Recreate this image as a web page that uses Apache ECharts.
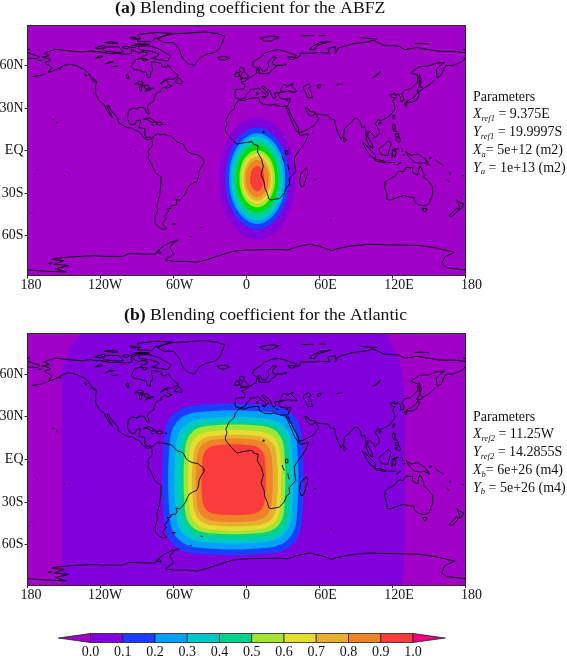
<!DOCTYPE html>
<html lang="en">

<head>
    <meta charset="UTF-8">
    <title>Blending coefficient</title>
    <style>
        html, body { margin: 0; padding: 0; background: #fff; }
        #box { width: 567px; height: 656px; }
    </style>
    <script src="https://cdn.jsdelivr.net/npm/echarts@6/dist/echarts.min.js"></script>
</head>

<body>
    <div id="box"></div>
    <script>
        // tick labels
        const lonTicks = [-180, -120, -60, 0, 60, 120, 180];
        const lonLabels = ['180', '120W', '60W', '0', '60E', '120E', '180'];
        const latTicks = [-60, -30, 0, 30, 60];
        const latLabels = ['60S', '30S', 'EQ', '30N', '60N'];
        const barTicks = [0, 0.1, 0.2, 0.3, 0.4, 0.5, 0.6, 0.7, 0.8, 0.9, 1];
        const barLabels = ['0.0', '0.1', '0.2', '0.3', '0.4', '0.5', '0.6', '0.7', '0.8', '0.9', '1.0'];

        // colour of each band
        const barColors = ['#8200dc', '#1e3cff', '#00a0ff', '#00c8c8', '#00d28c', '#a0e632', '#e6dc32', '#e6af2d', '#f08228', '#fa3c3c'];
        const colorBelow = '#a000c8';
        const colorAbove = '#f00082';
        const colorsA = ['#8200dc', '#1e3cff', '#00a0ff', '#00c8c8', '#00d28c', '#00dc00', '#a0e632', '#e6dc32', '#e6af2d', '#f08228', '#fa3c3c'];
        const colorsB = ['#1e3cff', '#00a0ff', '#00c8c8', '#00d28c', '#a0e632', '#e6dc32', '#e6af2d', '#f08228', '#fa3c3c'];

        // panel (a) contour outlines, outer to inner, [lon, lat]
        const contoursA = [
            [[40, -19.8], [30.9, 10.7], [8.8, 23.4], [-13.3, 10.7], [-22.4, -19.8], [-13.3, -50.3], [8.8, -63], [30.9, -50.3]],
            [[34.9, -19.8], [27.3, 5.7], [8.8, 16.3], [-9.7, 5.7], [-17.3, -19.8], [-9.7, -45.3], [8.8, -55.9], [27.3, -45.3]],
            [[31.9, -19.8], [25.1, 2.8], [8.8, 12.1], [-7.5, 2.8], [-14.3, -19.8], [-7.5, -42.4], [8.8, -51.7], [25.1, -42.4]],
            [[30.2, -19.8], [23.9, 1.1], [8.8, 9.8], [-6.3, 1.1], [-12.6, -19.8], [-6.3, -40.7], [8.8, -49.4], [23.9, -40.7]],
            [[28.1, -19.8], [22.4, -0.9], [8.8, 7], [-4.8, -0.9], [-10.5, -19.8], [-4.8, -38.7], [8.8, -46.6], [22.4, -38.7]],
            [[26, -19.8], [21, -3], [8.8, 3.9], [-3.4, -3], [-8.4, -19.8], [-3.4, -36.6], [8.8, -43.5], [21, -36.6]],
            [[23.4, -19.8], [19.1, -5.5], [8.8, 0.4], [-1.5, -5.5], [-5.8, -19.8], [-1.5, -34.1], [8.8, -40], [19.1, -34.1]],
            [[21.7, -19.8], [17.9, -7.2], [8.8, -2], [-0.3, -7.2], [-4.1, -19.8], [-0.3, -32.4], [8.8, -37.6], [17.9, -32.4]],
            [[20, -19.8], [16.7, -8.8], [8.8, -4.3], [0.9, -8.8], [-2.4, -19.8], [0.9, -30.8], [8.8, -35.3], [16.7, -30.8]],
            [[18.3, -19.8], [15.5, -10.5], [8.8, -6.6], [2.1, -10.5], [-0.7, -19.8], [2.1, -29.1], [8.8, -33], [15.5, -29.1]],
            [[14.6, -19.8], [12.9, -13.5], [8.8, -10.9], [4.7, -13.5], [3, -19.8], [4.7, -26.1], [8.8, -28.7], [12.9, -26.1]]
        ];

        // panel (b): the wide 0.0 region, then the rounded boxes, outer to inner
        const zeroRegionB = [[-136.8, 88.5], [115.2, 88.5], [121.2, 78], [127.5, 64], [130.2, 43], [130.2, -60], [128, -88.5], [-151.6, -88.5], [-151.6, 64], [-145, 78]];
        const contoursB = [
            [[-41.8, 38], [19.4, 38], [37.9, 31.6], [45.4, 16], [45.4, -44.4], [37.9, -60], [19.4, -66.4], [-41.8, -66.4], [-60.3, -60], [-67.8, -44.4], [-67.8, 16], [-60.3, 31.6]],
            [[-38.9, 33.3], [17.2, 33.3], [34.2, 27.5], [41.2, 13.3], [41.2, -42.2], [34.2, -56.4], [17.2, -62.2], [-38.9, -62.2], [-55.9, -56.4], [-62.9, -42.2], [-62.9, 13.3], [-55.9, 27.5]],
            [[-35.9, 28.7], [15.1, 28.7], [30.7, 23.3], [37.1, 10.2], [37.1, -39.7], [30.7, -52.8], [15.1, -58.2], [-35.9, -58.2], [-51.5, -52.8], [-57.9, -39.7], [-57.9, 10.2], [-51.5, 23.3]],
            [[-33.2, 25.1], [14.3, 25.1], [28.5, 20.2], [34.3, 8.1], [34.3, -38.1], [28.5, -50.2], [14.3, -55.1], [-33.2, -55.1], [-47.4, -50.2], [-53.2, -38.1], [-53.2, 8.1], [-47.4, 20.2]],
            [[-31.5, 23.5], [11.8, 23.5], [25.3, 18.9], [30.8, 7.5], [30.8, -35.9], [25.3, -47.3], [11.8, -51.9], [-31.5, -51.9], [-45, -47.3], [-50.5, -35.9], [-50.5, 7.5], [-45, 18.9]],
            [[-29.5, 19.7], [10, 19.7], [22.4, 15.3], [27.5, 4.7], [27.5, -34.5], [22.4, -45.1], [10, -49.5], [-29.5, -49.5], [-41.9, -45.1], [-47, -34.5], [-47, 4.7], [-41.9, 15.3]],
            [[-27.7, 16.4], [8.8, 16.4], [20.2, 12.3], [24.8, 2.4], [24.8, -32.5], [20.2, -42.4], [8.8, -46.5], [-27.7, -46.5], [-39.1, -42.4], [-43.7, -32.5], [-43.7, 2.4], [-39.1, 12.3]],
            [[-25.7, 13.9], [5.7, 13.9], [16.3, 10.3], [20.7, 1.4], [20.7, -31], [16.3, -39.9], [5.7, -43.5], [-25.7, -43.5], [-36.3, -39.9], [-40.7, -31], [-40.7, 1.4], [-36.3, 10.3]],
            [[-24.3, 9.9], [3.2, 9.9], [11.7, 6.9], [15.2, -0.6], [15.2, -28.2], [11.7, -35.7], [3.2, -38.7], [-24.3, -38.7], [-32.8, -35.7], [-36.3, -28.2], [-36.3, -0.6], [-32.8, 6.9]]
        ];

        // coastlines and lakes, [lon, lat]
        const coasts = [
            // chukotka west of the date line
            [[-180, 68.9], [-175, 67.5], [-170, 66], [-172, 64.5], [-175, 64.8], [-180, 65]],
            // the Americas
            [[-168, 65.6], [-164, 66.5], [-162, 66.8], [-166.5, 68.4], [-163, 69.5], [-157, 71.2], [-150, 70.5], [-141, 69.7], [-135, 69.3], [-128, 70.2], [-125, 69.5], [-120, 69.5], [-115, 68.5], [-110, 68], [-108, 68.5], [-102, 67.8], [-97, 68], [-94, 68.5], [-95, 71.8], [-92, 70], [-88, 68.7], [-85, 69.5], [-81.5, 69], [-82, 67], [-86, 66.3], [-87, 64.8], [-91, 64], [-93, 62], [-94.5, 59], [-92.5, 57], [-88, 56.5], [-85, 55.3], [-82.3, 55.1], [-82, 53], [-80.5, 51.3], [-79, 51.5], [-79, 54.5], [-77, 56], [-77.5, 58], [-78, 60], [-78, 62.4], [-74, 62.2], [-70, 61], [-69.5, 59], [-66.5, 58.7], [-64.5, 60.3], [-62, 57.5], [-60, 55.5], [-56, 53], [-58, 51.5], [-60, 50.2], [-66, 50.2], [-69, 48.5], [-71, 46.9], [-67, 49], [-65, 49], [-64.5, 47.5], [-65, 47], [-63, 45.8], [-61, 45.5], [-64, 44.2], [-66, 43.7], [-66, 45], [-67, 44.8], [-70, 43.7], [-70.8, 42.5], [-70, 41.7], [-74, 40.6], [-75.5, 38], [-76, 37], [-76, 35], [-78, 33.9], [-81, 32], [-81.5, 30], [-80, 27], [-80.3, 25.3], [-81.5, 26], [-82.8, 28], [-84, 30], [-86, 30.4], [-89, 30.2], [-89.5, 29.2], [-91, 29.3], [-94, 29.6], [-97, 28], [-97.5, 25], [-97.8, 22], [-96, 19], [-94, 18.2], [-91.5, 18.6], [-90.5, 21], [-87, 21.5], [-87.6, 19], [-88.5, 16], [-86, 15.9], [-83.5, 15.2], [-83.6, 11], [-82, 9], [-79.5, 9.5], [-77.3, 8.6], [-75.5, 10.6], [-72, 12.2], [-71.5, 10.8], [-69, 11.5], [-64, 10.5], [-61.5, 10], [-60, 8.5], [-57, 6], [-52, 4.5], [-50, 1], [-48, -1], [-44, -2.5], [-40, -3], [-37, -5], [-35, -6.5], [-35, -9], [-37.5, -12], [-39, -15], [-39.5, -19], [-41, -22], [-44, -23], [-47, -24.5], [-48.6, -27], [-50, -30], [-53, -33.5], [-55, -35], [-58, -34.3], [-57, -36.5], [-58, -38.5], [-62, -39], [-62.5, -41], [-65, -41], [-64, -42.5], [-66, -45], [-67.5, -46.5], [-66, -48], [-69, -51], [-68.5, -52.5], [-65.5, -55], [-69, -55.5], [-72, -54], [-75, -51.5], [-75, -47], [-73, -42], [-73.5, -38], [-71.5, -32], [-70.5, -25], [-70.3, -18.5], [-75, -15.5], [-79, -8], [-81.3, -5], [-80, -3], [-81, -1], [-80, 1], [-78.5, 2], [-77.3, 4], [-77.5, 7], [-79, 8.5], [-80.5, 7.5], [-83, 8.2], [-85.5, 10], [-87.5, 13], [-91, 14], [-94, 16], [-97, 15.8], [-101, 17.3], [-105.5, 20], [-105.5, 22.5], [-109, 26], [-112, 29], [-113, 31.5], [-114.7, 31.5], [-113, 28], [-110, 23], [-112, 25], [-115, 28.5], [-117, 32.5], [-120.5, 34.5], [-122.5, 37.5], [-124, 40], [-124, 46], [-123, 48.5], [-125, 50], [-128, 52], [-130, 54.5], [-133, 57], [-137, 58.5], [-140, 59.8], [-146, 60.8], [-150, 60], [-153, 58.5], [-158, 56.3], [-163, 54.8], [-160, 58.5], [-162, 59.8], [-165, 61], [-166, 62], [-161, 63.5], [-162, 64.5], [-168, 65.6]],
            // greenland and the arctic islands
            [[-73, 78.5], [-68, 80.5], [-62, 82], [-50, 82.5], [-35, 83.5], [-25, 82.5], [-18, 80.5], [-20, 76], [-22, 72], [-26, 69], [-32, 68], [-38, 65.5], [-43, 60], [-48, 61], [-52, 64.5], [-54, 68], [-55, 71], [-60, 76], [-68, 76], [-73, 78.5]],
            [[-80, 73.7], [-72, 71.5], [-67, 69], [-62, 66.5], [-65, 63], [-72, 64], [-78, 64.8], [-73, 66.5], [-72, 68], [-79, 70], [-88, 71], [-89, 73.5], [-80, 73.7]],
            [[-117, 70], [-105, 69], [-101, 69.5], [-105, 73], [-115, 73], [-118, 71.5], [-117, 70]],
            [[-125, 72], [-120, 71.5], [-116, 73.3], [-118, 74], [-125, 72]],
            [[-90, 77], [-78, 76.5], [-75, 79], [-64, 81.5], [-62, 82.5], [-75, 83], [-90, 81.5], [-87, 79], [-90, 77]],
            [[-92, 75], [-80, 75], [-80, 74.5], [-91, 74.5], [-92, 75]],
            [[-117, 76], [-106, 75], [-106, 76], [-112, 76.5], [-117, 76]],
            [[-95, 80], [-88, 78.5], [-95, 78.5], [-95, 80]],
            [[-100, 73.5], [-96, 73], [-98, 71.5], [-102, 72.5], [-100, 73.5]],
            [[-94, 74], [-90, 73.8], [-92, 72.5], [-95, 72.5], [-94, 74]],
            [[-87, 65], [-81, 64], [-84, 62.8], [-87, 65]],
            [[-59, 47.8], [-53, 46.8], [-53, 49], [-56, 51.5], [-59, 47.8]],
            [[-128, 50.5], [-123.5, 48.4], [-125, 48.8], [-128, 50.5]],
            [[-133, 54], [-131.5, 53], [-132, 52], [-133, 54]],
            [[-154.5, 57.5], [-152.5, 58], [-153, 57], [-154.5, 57.5]],
            [[-171, 63.5], [-168.5, 63.3], [-170, 63], [-171, 63.5]],
            [[-176, 52], [-173, 52.3], [-170, 52.7], [-167, 53.5], [-165, 54]],
            // lakes of north america
            [[-92, 46.7], [-88, 48.8], [-85, 47.9], [-85, 46.6], [-88, 46.8], [-92, 46.7]],
            [[-87.5, 41.8], [-86.5, 42], [-86, 44.5], [-85, 45.8], [-87, 45.8], [-88, 44.5], [-87.5, 41.8]],
            [[-84.5, 46], [-81, 46], [-80, 44.5], [-82, 43], [-83.5, 44], [-84.5, 46]],
            [[-83.3, 41.7], [-79, 42.8], [-79, 43], [-82.5, 42.3], [-83.3, 41.7]],
            [[-79.7, 43.3], [-76.3, 43.5], [-76.3, 44], [-79.5, 43.8], [-79.7, 43.3]],
            [[-98, 50.5], [-96.5, 50.5], [-97.5, 53.7], [-99, 53], [-98, 50.5]],
            [[-124, 65], [-118, 66], [-120, 67], [-124, 65]],
            [[-116, 61], [-109, 62.5], [-112, 62.7], [-116, 61]],
            [[-111, 59], [-106, 59.2]],
            // caribbean and pacific islands
            [[-84.5, 22], [-80, 23], [-75, 20.5], [-74.5, 20], [-78, 20], [-82, 22], [-84.5, 22]],
            [[-74, 19.8], [-70, 19.8], [-68.5, 18.5], [-71.5, 17.8], [-74, 18.4], [-74, 19.8]],
            [[-78.3, 18.4], [-76.3, 18.1], [-77.5, 17.8], [-78.3, 18.4]],
            [[-67, 18.4], [-65.7, 18.3], [-66.5, 18]],
            [[-159.7, 22], [-158, 21.5]],
            [[-156, 20], [-155, 19.5], [-155.7, 19], [-156, 20]],
            [[-91.5, 0.2], [-90.5, -0.5]],
            [[-172.5, -13.5], [-171.5, -14]],
            [[-150, -17.5], [-149, -17.8]],
            [[-177, -44], [-176, -44]],
            [[-61, -51.5], [-58, -51.5], [-59, -52.2], [-61, -51.5]],
            [[-38, -54], [-36, -54.5]],
            [[-46.5, -60.6], [-45, -60.7]],
            // antarctica
            [[-180, -84], [-165, -85], [-148, -85.6], [-157, -83.2], [-146, -81], [-158, -80], [-150, -77.5], [-160, -76.8], [-158, -76], [-145, -75], [-135, -74.5], [-125, -74], [-118, -74.5], [-110, -74.6], [-102, -74.5], [-96, -72.5], [-85, -73], [-75, -73], [-72, -70], [-68, -67], [-62, -64.5], [-56, -63], [-60, -65], [-63, -68], [-60, -73], [-67, -77], [-60, -78], [-50, -78], [-41, -78.7], [-33, -77], [-24.5, -74.6], [-17, -72.5], [-11, -71], [0, -70], [15, -69.8], [27.5, -69.7], [34, -70], [43, -67.5], [52, -66], [60, -67.5], [70, -70.4], [75, -69], [85, -67.4], [100, -66], [112, -66.3], [125, -66.5], [142.6, -66.9], [155, -68.5], [171, -71.6], [163, -75], [160.4, -79.8], [164.5, -82.6], [180, -84]],
            [[-163, -79.5], [-160, -79.2], [-161, -80], [-163, -79.5]],
            [[-72, -70], [-70, -72.5], [-74, -71.5], [-72, -70]],
            // africa joined to eurasia along the mediterranean
            [[32.5, 30], [33.5, 28], [35.5, 24], [37.2, 21], [38.5, 18], [40, 15], [43, 12], [44.5, 10.5], [51, 11.8], [49, 7], [46, 3], [42, -1.5], [39.5, -5], [39.5, -9], [40.5, -15], [35, -20], [35.5, -24], [32.8, -26], [31, -30], [27, -33.8], [20, -34.8], [18.3, -34], [17, -30], [15, -26], [14.5, -22], [12, -17], [13.8, -11], [12.3, -6], [9, -1], [9.5, 3.5], [6, 4.3], [4.5, 6.3], [1, 5.8], [-4, 5.2], [-7.7, 4.4], [-11, 6.9], [-13.5, 9.5], [-16.5, 12.5], [-17.5, 14.7], [-16, 19], [-17, 21], [-14.5, 26], [-10, 29.5], [-9.5, 32], [-6, 35.7], [-2, 35.2], [3, 36.8], [10, 37.2], [11, 34], [15, 32.3], [20, 32], [23, 32.5], [25, 31.7], [29, 31], [32, 31.2], [34, 31.3], [35.8, 35], [36.2, 36.7], [32, 36], [28, 36.7], [26.5, 38.5], [26.5, 40], [29, 41], [35, 42], [38, 41], [41.5, 41.5], [39, 44], [37, 45.5], [38.5, 47], [35, 46], [33.5, 44.5], [33, 46], [30.5, 46.5], [28, 43], [29, 41.2], [26.5, 40.8], [23, 40.3], [24, 38], [22.5, 36.5], [21, 38], [19.5, 41], [19, 42], [15, 44.5], [13.5, 45.5], [12.4, 44.5], [16, 41.8], [18.5, 40], [16, 38], [15.7, 40], [12.5, 41.5], [10, 44], [6, 43.2], [3, 43], [3, 41.8], [0, 39.5], [-0.5, 38], [-2, 36.8], [-5.5, 36], [-9, 37], [-9.5, 38.7], [-8.8, 43], [-2, 43.4], [-1, 46], [-4.5, 48.3], [-1.5, 48.7], [2, 51], [4, 52], [8, 54], [8.5, 57], [10.5, 57.5], [10, 54.5], [14, 54], [19, 54.5], [21, 57], [24, 58.5], [24, 59.5], [30, 60], [23, 60], [21.5, 61], [21.5, 63], [25, 65.5], [22, 65.8], [17.5, 62], [18.5, 59.5], [16.5, 56.5], [14, 55.5], [12.5, 56.5], [11, 59], [8, 58], [5, 60], [5.5, 62.5], [12, 66], [15, 68.5], [20, 70], [26, 71], [31, 70], [41, 67], [40, 65.5], [34, 66], [35, 64.5], [38, 64], [40, 65], [44, 66.3], [44, 68.5], [54, 68.5], [60, 69], [68, 68.5], [67, 72], [73, 73], [73, 68], [75, 72], [81, 73.5], [87, 75], [100, 76.5], [104, 77.7], [113, 74], [125, 73.5], [130, 71], [140, 72.5], [150, 71], [160, 69.7], [170, 69.8], [180, 68.9]],
            // asia from the date line round to the red sea
            [[180, 65], [177, 62.5], [170, 60], [164, 59.8], [162, 57], [160, 53], [156.7, 51], [156, 57], [160, 60.5], [163, 62], [156, 61.5], [150, 59.5], [142, 59], [135, 54.7], [141, 53], [140.5, 48], [135, 43.5], [130, 42.5], [127.5, 39.8], [129.4, 37], [129, 35], [126.5, 34.5], [126.7, 37.5], [125, 39.7], [121.5, 39], [122, 40.7], [118, 39], [119, 37.5], [122.5, 37], [120, 35], [122, 31], [121.5, 28.5], [118, 24.5], [114, 22.3], [110, 21], [108, 21.7], [106, 19], [109, 14], [109, 11.5], [105, 8.7], [105, 10], [101, 13.5], [100, 13.5], [99.5, 10], [103, 5], [104, 1.5], [101, 3], [98.5, 8], [98, 14], [97, 17], [94.5, 16], [94, 19], [91.5, 22.5], [88, 22], [86.5, 20], [80.5, 15.5], [80, 11], [77.5, 8], [74.5, 14], [72.8, 19], [72.5, 21.5], [69, 22.2], [67, 24.8], [61.5, 25.2], [57, 25.7], [56.5, 27], [52, 27.5], [50, 30], [48, 30], [50, 26.5], [51.5, 25], [54, 24], [56.3, 26], [59.5, 22.5], [55, 17], [52, 15.7], [45, 12.8], [43.2, 12.8], [42.5, 16], [39, 21], [35, 28], [34.8, 29.5], [32.5, 30]],
            // islands of europe and the north
            [[-5.5, 50.2], [1, 51.2], [1.5, 52.8], [-1, 54.5], [-2, 56], [-2, 57.7], [-5, 58.6], [-6, 56.5], [-3, 54.8], [-4.5, 53.3], [-5, 51.7], [-3, 51.3], [-5.5, 50.2]],
            [[-10, 52], [-6, 52.2], [-6, 55], [-8.5, 55], [-10, 52]],
            [[-24, 65.5], [-18, 66.3], [-14, 65], [-18, 63.5], [-22.5, 64], [-24, 65.5]],
            [[11, 79], [20, 80.5], [27, 80], [20, 77], [15, 77], [11, 79]],
            [[52, 71], [56, 70.8], [58, 74], [69, 76.8], [60, 76], [54, 73], [52, 71]],
            [[45, 80.7], [50, 80.8], [55, 81]],
            [[60, 81], [65, 81]],
            [[93, 79.5], [100, 79], [107, 78.5]],
            [[138, 75], [143, 75.5], [150, 75]],
            [[-180, 71], [-178, 71.3]],
            [[178, 71], [180, 71]],
            [[8.5, 41], [9.7, 40], [8.5, 39], [8.5, 41]],
            [[12.5, 38], [15.5, 38], [15, 36.7], [12.5, 38]],
            [[24, 35.4], [26, 35.2]],
            [[32.5, 35], [34.5, 35.5]],
            // east asia and the pacific rim
            [[142, 54], [143.5, 50], [143, 46], [142, 46], [142, 50], [142, 54]],
            [[140, 42], [142, 45.5], [145.5, 43.5], [143, 42], [140, 42]],
            [[131, 34], [136, 34], [140, 35.5], [142, 39.5], [141, 41.5], [140, 40], [137, 37], [133, 35.5], [131, 34]],
            [[130, 33.5], [131.8, 33], [131, 31], [130, 32], [130, 33.5]],
            [[146, 44], [150, 46], [155, 50]],
            [[121, 25], [122, 24.5], [120.8, 22], [120, 23], [121, 25]],
            [[109, 20], [111, 19.5], [109.5, 18.2], [108.7, 19], [109, 20]],
            [[120.5, 18.5], [122.2, 18.3], [122, 15], [124, 13], [121, 13.8], [120, 16], [120.5, 18.5]],
            [[122, 7.5], [125.5, 9.7], [126.5, 7], [125.5, 5.7], [124, 7], [122, 7.5]],
            [[122, 11.5], [125, 12], [125, 10.5], [123, 9.5], [122, 11.5]],
            [[109, 1.5], [111.5, 2.8], [116.5, 7], [119, 5], [117.5, 1], [116, -3.8], [111, -3], [109, 0], [109, 1.5]],
            [[95.3, 5.6], [98, 4], [103.5, -1], [106, -3], [105.8, -5.8], [102, -4], [98.5, 0.5], [95.3, 5.6]],
            [[105.3, -6.5], [108.5, -6.5], [114.5, -7.8], [114.5, -8.7], [106.5, -7.4], [105.3, -6.5]],
            [[119.5, -5.5], [120, 0.5], [125, 1.5], [121, 0], [123, -1], [122, -4.5], [120.5, -3], [119.5, -5.5]],
            [[131, -0.8], [135, -3.3], [141, -2.6], [147, -6], [150.5, -10.5], [146, -8.5], [143, -9], [138, -8.3], [133, -4], [131, -0.8]],
            [[124, -10], [127, -8.4], [123.5, -10.3], [124, -10]],
            [[116, -8.5], [119, -8.4], [122.5, -8.5]],
            [[127.5, 1.8], [128.5, 0], [128, -1]],
            [[127.5, -3.2], [130.5, -3.2]],
            [[150, -5.5], [152, -4.5], [151.5, -6]],
            [[155, -6], [157, -8], [160, -9.4], [162, -10.5]],
            [[167, -15], [167.5, -17]],
            [[164, -20], [167, -22.3]],
            [[177.5, -17.5], [178.7, -18]],
            // south asia and the indian ocean
            [[80, 9.5], [82, 7.5], [81, 6], [80, 6.2], [80, 9.5]],
            [[49.3, -12], [50.3, -15.5], [47, -25], [45, -25.5], [43.5, -22], [44.5, -16.5], [49.3, -12]],
            [[54, 12.5], [54.5, 12.5]],
            [[55.3, -21], [57.5, -20.2]],
            [[68.8, -49], [70, -49.3]],
            // australia and new zealand
            [[114, -22], [113.5, -26], [115.7, -32], [115, -34.3], [118, -35], [124, -33], [129, -31.7], [134, -32.8], [137.7, -33], [138, -35.5], [141, -38], [146, -39], [150, -37.5], [153, -31], [153, -25.5], [149, -21], [146, -19], [145.3, -15], [142.5, -10.8], [141.5, -13], [140.8, -17.5], [136, -15], [136.8, -12], [131, -12], [129, -15], [125, -14.5], [122, -18], [117, -20.5], [114, -22]],
            [[144.7, -40.7], [148.3, -41], [147, -43.5], [145.5, -42.5], [144.7, -40.7]],
            [[172.7, -34.5], [175.5, -36.7], [178.5, -37.7], [176.5, -41], [175, -41.5], [174.8, -39], [172.7, -34.5]],
            [[172.7, -40.5], [174.3, -41.5], [171, -45], [168.5, -46.6], [166.5, -46], [172.7, -40.5]],
            // inland seas and lakes of the old world
            [[47, 45], [51, 47], [53, 45], [51, 44], [53, 42], [54, 37], [50, 37.3], [49, 40], [47, 43], [47, 45]],
            [[58.5, 46], [61.5, 46.5], [60, 44], [58.5, 44], [58.5, 46]],
            [[74, 46], [76, 46.7], [79, 46.7]],
            [[104, 51.5], [106, 52.5], [110, 55.7], [109.5, 54.5], [105, 51.5]],
            [[31, 61], [33, 60.5], [31, 60], [31, 61]],
            [[32, 0], [34, 0], [34, -2.5], [32, -2.5], [32, 0]],
            [[29.5, -4], [30, -6], [31, -8]],
            [[34, -10], [34.5, -12], [35, -14]],
            [[13.5, 13.5], [14.5, 13.5], [14.5, 12.7], [13.5, 12.7], [13.5, 13.5]]
        ];

        // text beside the panels
        const paramsA = [
            'Parameters',
            '{i|X}{s|ref1}{n| = 9.375E}',
            '{i|Y}{s|ref1}{n| = 19.9997S}',
            '{i|X}{s|a}{n|= 5e+12 (m2)}',
            '{i|Y}{s|a}{n| = 1e+13 (m2)}'
        ];
        const paramsB = [
            'Parameters',
            '{i|X}{s|ref2}{n| = 11.25W}',
            '{i|Y}{s|ref2}{n| = 14.2855S}',
            '{i|X}{s|b}{n|= 6e+26 (m4)}',
            '{i|Y}{s|b}{n| = 5e+26 (m4)}'
        ];

        const font = 'Liberation Serif';
        const ink = '#111';
        const frame = '#2a2a2a';

        // x label centres sit a little right of their ticks in the original
        const lonPad = [7, 9, 12, 0, 12, 13, 12];

        function lonAxis(gridIndex, main) {
            let rich = {};
            lonPad.forEach(function (p, i) {
                rich['p' + i] = { padding: [0, 0, 0, p], fontFamily: font, fontSize: 14, color: ink };
            });
            return {
                type: 'value', gridIndex: gridIndex, min: -180, max: 180,
                position: main ? 'bottom' : 'top',
                splitLine: { show: false },
                axisLine: { show: true, onZero: false, lineStyle: { color: frame, width: 1 } },
                axisTick: { show: main, length: 3, customValues: lonTicks, lineStyle: { color: frame } },
                axisLabel: {
                    show: main, margin: 3, customValues: lonTicks, hideOverlap: false,
                    formatter: function (v) {
                        let i = lonTicks.indexOf(v);
                        return '{p' + i + '|' + lonLabels[i] + '}';
                    },
                    rich: rich
                }
            };
        }

        function latAxis(gridIndex, limit, main) {
            return {
                type: 'value', gridIndex: gridIndex, min: -limit, max: limit,
                position: main ? 'left' : 'right',
                splitLine: { show: false },
                axisLine: { show: true, onZero: false, lineStyle: { color: frame, width: 1 } },
                axisTick: { show: main, length: 3, customValues: latTicks, lineStyle: { color: frame } },
                axisLabel: {
                    show: main, margin: 4, customValues: latTicks, hideOverlap: false,
                    fontFamily: font, fontSize: 14, color: ink,
                    formatter: function (v) { return latLabels[latTicks.indexOf(v)]; }
                }
            };
        }

        // filled outlines, drawn in order through the axes of one panel
        function fillSeries(axisIndex, polygons, colors, smooth) {
            return {
                type: 'custom', xAxisIndex: axisIndex, yAxisIndex: axisIndex, silent: true, clip: true, z: 2,
                data: polygons.map(function (p, i) { return [i]; }),
                renderItem: function (params, api) {
                    let i = params.dataIndex;
                    return {
                        type: 'polygon',
                        shape: { points: polygons[i].map(function (p) { return api.coord(p); }), smooth: smooth },
                        style: { fill: colors[i] }
                    };
                }
            };
        }

        function coastSeries(axisIndex) {
            return {
                type: 'lines', coordinateSystem: 'cartesian2d', xAxisIndex: axisIndex, yAxisIndex: axisIndex,
                polyline: true, silent: true, z: 3,
                lineStyle: { color: '#000', width: 0.9, opacity: 1 },
                data: coasts.map(function (c) { return { coords: c }; })
            };
        }

        function paramTitle(lines, left, top) {
            return {
                text: lines.join('\n'), left: left, top: top, padding: 0,
                textStyle: {
                    fontFamily: font, fontSize: 14, fontWeight: 'normal', color: ink, lineHeight: 17.75,
                    rich: {
                        i: { fontFamily: font, fontSize: 14, fontStyle: 'italic', color: ink, lineHeight: 17.75 },
                        s: { fontFamily: font, fontSize: 8.5, fontStyle: 'italic', color: ink, verticalAlign: 'bottom', lineHeight: 17.75 },
                        n: { fontFamily: font, fontSize: 14, color: ink, lineHeight: 17.75 }
                    }
                }
            };
        }

        function headTitle(text, left, top) {
            return {
                text: text, left: left, top: top, padding: 0,
                textStyle: {
                    fontFamily: font, fontSize: 17.7, fontWeight: 'normal', color: ink,
                    rich: { b: { fontFamily: font, fontSize: 17.7, fontWeight: 'bold', color: ink } }
                }
            };
        }

        // colour bar cells, with the two end arrows
        const barPolygons = [[[-0.1, 0.5], [0, 1], [0, 0]]]
            .concat(barColors.map(function (c, i) {
                return [[barTicks[i], 0], [barTicks[i + 1], 0], [barTicks[i + 1], 1], [barTicks[i], 1]];
            }))
            .concat([[[1, 0], [1.1, 0.5], [1, 1]]]);
        const barFills = [colorBelow].concat(barColors, [colorAbove]);

        let chart = echarts.init(document.getElementById('box'), null, { renderer: 'canvas' });

        chart.setOption({
            animation: false,
            backgroundColor: '#fff',
            title: [
                headTitle('{b|(a)} Blending coefficient for the ABFZ', 115, -1),
                headTitle('{b|(b)} Blending coefficient for the Atlantic', 124, 306),
                paramTitle(paramsA, 473, 88),
                paramTitle(paramsB, 473, 408)
            ],
            grid: [
                { left: 27.5, top: 25.5, width: 438, height: 250, show: true, backgroundColor: colorBelow, borderWidth: 0, outerBoundsMode: 'none' },
                { left: 27.5, top: 333.5, width: 438, height: 251.5, show: true, backgroundColor: colorBelow, borderWidth: 0, outerBoundsMode: 'none' },
                { left: 58.25, top: 633.5, width: 387, height: 9, outerBoundsMode: 'none' }
            ],
            xAxis: [
                lonAxis(0, true), lonAxis(0, false), lonAxis(1, true), lonAxis(1, false),
                {
                    type: 'value', gridIndex: 2, min: -0.1, max: 1.1,
                    splitLine: { show: false }, axisLine: { show: false }, axisTick: { show: false },
                    axisLabel: {
                        margin: 3, customValues: barTicks, hideOverlap: false,
                        fontFamily: font, fontSize: 14, color: ink,
                        formatter: function (v) { return barLabels[barTicks.indexOf(v)]; }
                    }
                }
            ],
            yAxis: [
                latAxis(0, 88, true), latAxis(0, 88, false), latAxis(1, 88.5, true), latAxis(1, 88.5, false),
                { type: 'value', gridIndex: 2, min: 0, max: 1, show: false }
            ],
            series: [
                fillSeries(0, contoursA, colorsA, 0.375),
                coastSeries(0),
                fillSeries(2, [zeroRegionB], [barColors[0]], 0),
                fillSeries(2, contoursB, colorsB, 0.375),
                coastSeries(2),
                {
                    type: 'custom', xAxisIndex: 4, yAxisIndex: 4, silent: true,
                    data: barPolygons.map(function (p, i) { return [i]; }),
                    renderItem: function (params, api) {
                        let i = params.dataIndex;
                        return {
                            type: 'polygon',
                            shape: { points: barPolygons[i].map(function (p) { return api.coord(p); }) },
                            style: { fill: barFills[i], stroke: '#222', lineWidth: 0.8 }
                        };
                    }
                }
            ]
        });
    </script>
</body>

</html>
